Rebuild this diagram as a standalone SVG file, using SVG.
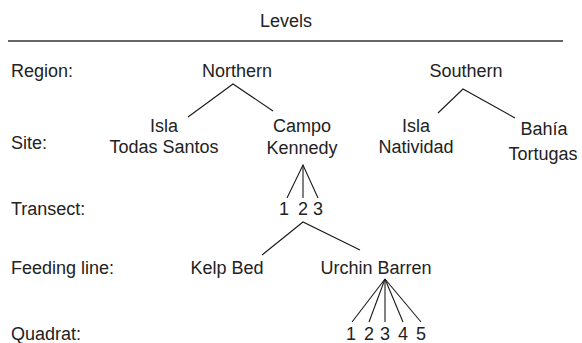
<svg xmlns="http://www.w3.org/2000/svg" width="582" height="343" viewBox="0 0 582 343">
<style>
text{font-family:"Liberation Sans",Arial,Helvetica,sans-serif;font-size:18px;fill:#222}
.c{text-anchor:middle}
.l{stroke:#1a1a1a;stroke-width:1.1;fill:none}
</style>
<rect width="582" height="343" fill="#fff"/>
<g id="header">
<text class="c" x="286" y="27">Levels</text>
<line x1="8" y1="41" x2="563" y2="41" stroke="#333" stroke-width="1.4"/>
</g>
<g id="level-labels">
<text x="11" y="77">Region:</text>
<text x="11" y="149">Site:</text>
<text x="11" y="215">Transect:</text>
<text x="11" y="274">Feeding line:</text>
<text x="11" y="340">Quadrat:</text>
</g>
<g id="northern"><text class="c" x="237" y="77">Northern</text></g>
<g id="southern"><text class="c" x="466" y="77">Southern</text></g>
<g id="isla-todas-santos"><text class="c" x="164" y="132">Isla</text><text class="c" x="164" y="153">Todas Santos</text></g>
<g id="campo-kennedy"><text class="c" x="302" y="132">Campo</text><text class="c" x="302" y="154">Kennedy</text></g>
<g id="isla-natividad"><text class="c" x="416" y="132">Isla</text><text class="c" x="416" y="153">Natividad</text></g>
<g id="bahia-tortugas"><text class="c" x="544" y="135">Bahía</text><text class="c" x="543" y="160">Tortugas</text></g>
<g id="transects"><text class="c" x="284" y="215">1</text><text class="c" x="303" y="215">2</text><text class="c" x="318" y="215">3</text></g>
<g id="kelp-bed"><text class="c" x="227" y="274">Kelp Bed</text></g>
<g id="urchin-barren"><text class="c" x="376" y="274">Urchin Barren</text></g>
<g id="quadrats"><text class="c" x="351" y="340">1</text><text class="c" x="369" y="340">2</text><text class="c" x="385" y="340">3</text><text class="c" x="403" y="340">4</text><text class="c" x="421" y="340">5</text></g>
<g id="connectors" class="l">
<polyline points="188,117 233,84 273,111"/>
<polyline points="438,113 463,89 515,118"/>
<polyline points="287,198 303,165 318,198"/>
<line x1="303" y1="165" x2="303" y2="198"/>
<polyline points="262,255 303,222 360,250"/>
<line x1="385" y1="279" x2="352" y2="322"/>
<line x1="385" y1="279" x2="369" y2="322"/>
<line x1="385" y1="279" x2="385" y2="322"/>
<line x1="385" y1="279" x2="403" y2="322"/>
<line x1="385" y1="279" x2="421" y2="322"/>
</g>
</svg>
